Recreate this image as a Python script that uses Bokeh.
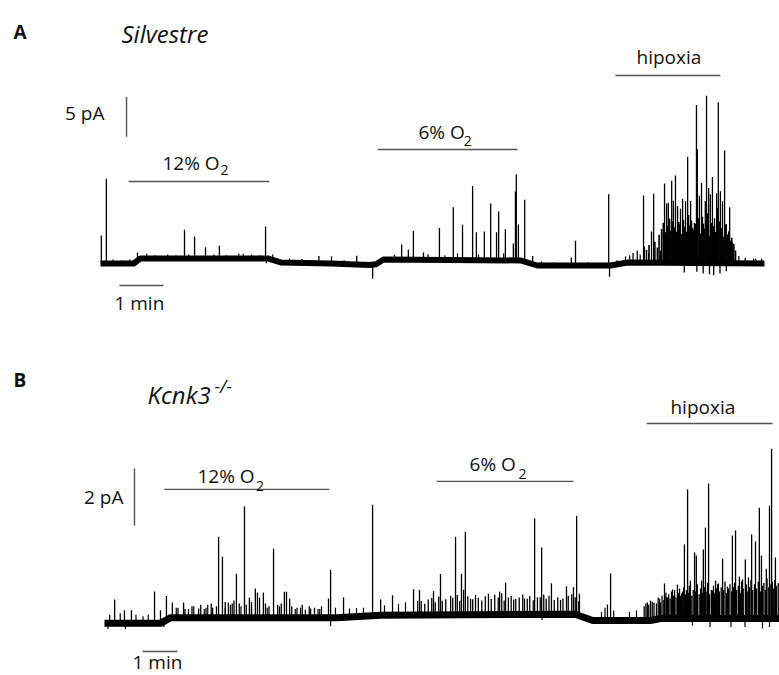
import numpy as np
from bokeh.plotting import figure
from bokeh.layouts import column
from bokeh.models import ColumnDataSource, Range1d
from bokeh.core.properties import value
from bokeh.embed import file_html
from bokeh.resources import INLINE

FONT = "Open Sans"
TRACE = "#000000"
BARC = "#555555"
TXT = "#111111"

# ---------------- Panel A: Silvestre (time in min, current in pA) ----------------
a_base_t = [0.0, 0.79, 0.95, 3.98, 4.29, 5.48, 6.40, 6.56, 6.74, 10.0, 10.4, 12.14, 12.55, 15.81]
a_base_i = [0.25, 0.25, 0.88, 0.88, 0.38, 0.25, 0.05, 0.15, 0.75, 0.63, 0.0, 0.0, 0.38, 0.25]

a_spk_t = [0.02, 0.14, 0.88, 2.0, 2.24, 2.5, 2.83, 3.29, 3.93, 5.2, 5.5, 6.1,
           7.17, 7.33, 7.45, 7.69, 8.07, 8.40, 8.62, 8.86, 8.95, 9.14, 9.29, 9.43,
           9.48, 9.64, 9.83, 9.88, 9.90, 9.95, 10.1, 10.29, 11.21, 11.31, 12.1,
           12.68, 12.78, 12.93, 12.95, 13.12, 13.17, 13.33, 13.43, 13.48, 13.52, 13.60,
           13.64, 13.69, 13.74, 13.81, 13.86, 13.93, 13.98, 14.05, 14.10, 14.14,
           14.19, 14.21, 14.26, 14.31, 14.36, 14.40, 14.43, 14.48, 14.52, 14.57,
           14.62, 14.67, 14.69, 14.71, 14.76, 14.81, 14.86, 14.90, 14.98, 15.05,
           15.55, 15.74]
a_spk_amp = [3.5, 10.6, 1.0, 3.6, 2.75, 1.4, 1.6, 0.6, 4.0, 0.9, 0.9, 1.1,
             1.9, 1.25, 3.6, 0.9, 4.0, 6.6, 4.4, 9.25, 3.5, 3.6, 7.1, 3.5,
             6.1, 3.9, 2.1, 8.6, 10.75, 4.5, 7.75, 1.0, 1.0, 3.1, 8.9,
             1.2, 1.5, 8.4, 2.0, 3.9, 8.6, 1.5, 9.9, 7.4, 7.5, 10.25,
             7.75, 10.9, 7.1, 6.75, 8.0, 7.75, 13.25, 7.75, 4.4, 5.0,
             19.75, 14.25, 8.4, 10.0, 4.9, 7.75, 20.9, 9.4, 8.6, 10.75,
             5.6, 8.75, 6.9, 20.1, 9.0, 7.75, 14.1, 4.9, 7.0, 2.6,
             0.6, 0.6]
# dense burst activity during hypoxia
a_burst_t = [13.00, 13.06, 13.20, 13.26, 13.30, 13.36, 13.40, 13.46, 13.50, 13.55, 13.58,
             13.62, 13.67, 13.71, 13.77, 13.79, 13.84, 13.88, 13.91, 13.96, 14.0,
             14.03, 14.07, 14.12, 14.17, 14.23, 14.28, 14.33, 14.38, 14.45, 14.50,
             14.55, 14.59, 14.65, 14.73, 14.79, 14.83, 14.88, 14.93, 14.96, 15.0,
             15.03, 15.08, 15.12]
a_burst_amp = [1.6, 2.2, 2.6, 1.9, 3.5, 4.2, 5.0, 3.8, 4.6, 5.5, 4.0,
               5.2, 4.4, 3.9, 5.1, 4.8, 3.6, 5.4, 4.5, 3.9, 6.0,
               4.7, 5.3, 4.1, 4.9, 5.6, 3.7, 5.8, 4.3, 6.2, 3.4,
               5.0, 4.6, 3.9, 5.2, 4.4, 3.3, 4.8, 3.6, 4.0, 2.8,
               3.2, 2.4, 1.6]
# small fluctuations riding on the baseline
a_small_t = [0.3, 0.5, 0.7, 1.1, 1.3, 1.6, 1.8, 2.1, 2.7, 3.0, 3.4, 3.6, 3.8, 4.1, 4.5,
             4.8, 5.8, 6.3, 7.0, 7.8, 8.2, 8.5, 9.0, 9.6, 10.5, 10.8, 11.6, 12.3,
             12.5, 12.6, 12.85, 13.05, 15.2, 15.35, 15.6]
a_small_amp = [0.5, 0.4, 0.5, 0.6, 0.4, 0.5, 0.4, 0.5, 0.5, 0.4, 0.6, 0.5, 0.4, 0.7, 0.5,
               0.5, 0.5, 0.4, 0.6, 0.7, 0.6, 0.8, 0.7, 0.9, 0.5, 0.4, 0.4, 0.5,
               0.8, 0.9, 1.0, 1.2, 0.9, 0.7, 0.6]
a_neg_t = [3.95, 6.48, 12.12, 13.9, 14.2, 14.35, 14.5, 14.6, 14.75, 14.9]
a_neg_amp = [-0.6, -1.75, -1.4, -1.2, -1.1, -1.3, -1.4, -1.5, -1.3, -1.0]

a_stim_label = ["12% O", "6% O", "hipoxia"]
a_stim_sub = ["2", "2", ""]
a_stim_start = [0.67, 6.6, 12.26]
a_stim_end = [4.02, 9.93, 14.76]
a_stim_level = [10.5, 14.5, 23.75]

# ---------------- Panel B: Kcnk3-/- ----------------
b_base_t = [0.0, 1.6, 1.89, 6.31, 6.63, 7.89, 13.45, 13.95, 15.6, 15.89, 19.3]
b_base_i = [-0.1, -0.1, 0.1, 0.1, 0.1, 0.18, 0.22, 0.0, 0.0, 0.07, 0.07]

b_spk_t = [0.29, 0.57, 0.77, 1.43, 1.6, 1.77, 1.94, 2.26, 2.69, 3.09, 3.26, 3.37, 3.54,
           3.77, 4.0, 4.14, 4.31, 4.37, 4.43, 4.54, 4.83, 5.14, 5.2, 5.29, 5.74,
           5.89, 6.4, 6.46, 6.83, 7.66, 7.89, 8.23, 8.83, 9.0, 9.4, 9.6, 9.89,
           10.03, 10.2, 10.26, 10.31, 10.46, 10.97, 11.29, 11.46, 11.54, 11.69,
           12.0, 12.29, 12.37, 12.49, 12.77, 13.03, 13.2, 13.4, 13.49, 13.57,
           14.37, 14.46, 15.51, 15.77, 15.89, 16.0, 16.09, 16.23, 16.37, 16.49,
           16.57, 16.66, 16.74, 16.86, 16.91, 17.06, 17.11, 17.17, 17.26, 17.37,
           17.46, 17.54, 17.66, 17.8, 17.94, 18.03, 18.14, 18.23, 18.31, 18.4,
           18.49, 18.6, 18.71, 18.77, 18.91, 19.0, 19.06, 19.17]
b_spk_amp = [0.84, 0.46, 0.46, 1.12, 0.46, 0.84, 0.53, 0.53, 0.32, 0.35, 2.84, 2.14, 0.53,
             1.54, 3.9, 0.7, 1.02, 0.88, 0.7, 0.88, 2.42, 0.91, 0.91, 0.67, 0.28,
             0.32, 0.67, 1.68, 0.7, 3.9, 0.56, 0.7, 0.91, 0.88, 0.84, 1.44, 0.67,
             2.74, 1.44, 0.88, 2.91, 0.56, 0.74, 0.81, 1.12, 0.6, 0.53,
             0.56, 3.37, 0.6, 2.35, 1.09, 0.5, 0.98, 0.95, 3.47, 0.77,
             0.56, 1.65, 0.63, 0.56, 0.56, 1.23, 0.74, 1.02, 1.19, 0.88,
             2.6, 4.53, 1.33, 2.32, 2.21, 1.33, 2.42, 3.19, 4.74, 0.98,
             1.33, 1.23, 2.1, 1.12, 2.91, 3.09, 1.47, 1.37, 2.07, 1.44,
             2.95, 2.7, 3.89, 2.21, 1.75, 3.96, 5.96, 2.14]
b_small_t = [0.15, 0.45, 0.9, 1.1, 1.25, 2.05, 2.4, 2.55, 2.85, 2.95, 3.45, 3.65, 3.9, 4.2,
             4.65, 5.0, 5.45, 5.6, 6.1, 6.2, 6.6, 7.0, 7.2, 7.4, 8.0, 8.4, 8.6, 8.95,
             14.2, 14.3, 14.55, 15.0, 15.2]
b_small_amp = [0.3, 0.35, 0.3, 0.25, 0.3, 0.35, 0.3, 0.4, 0.3, 0.45, 0.35, 0.5, 0.4, 0.45,
               0.35, 0.4, 0.3, 0.35, 0.3, 0.4, 0.35, 0.3, 0.3, 0.3, 0.35, 0.4, 0.45, 0.5,
               0.3, 0.45, 0.35, 0.3, 0.35]
# dense low-amplitude activity (12% O2, 6% O2, hipoxia)
b_fill_t = [2.1, 2.3, 2.5, 2.75, 2.9, 3.05, 3.2, 3.45, 3.6, 3.7, 3.85, 4.05, 4.2, 4.6,
            4.7, 4.95, 5.05, 5.35, 5.5, 5.65, 5.85, 6.0, 6.15,
            9.05, 9.15, 9.25, 9.35, 9.45, 9.55, 9.65, 9.75, 9.95, 10.08, 10.15, 10.38,
            10.52, 10.6, 10.68, 10.78, 10.88, 11.05, 11.15, 11.25, 11.35, 11.42, 11.62,
            11.75, 11.85, 11.95, 12.08, 12.15, 12.25, 12.45, 12.55, 12.62, 12.7, 12.85,
            12.95, 13.1, 13.25, 13.35, 13.45, 13.55,
            15.42, 15.47, 15.55, 15.6, 15.65, 15.7, 15.82, 15.86, 15.93, 15.98, 16.04,
            16.06, 16.12, 16.16, 16.2, 16.26, 16.29, 16.33, 16.4, 16.43, 16.46, 16.52,
            16.55, 16.6, 16.63, 16.69, 16.71, 16.78, 16.82, 16.88, 16.94, 16.99, 17.03,
            17.08, 17.14, 17.19, 17.23, 17.29, 17.34, 17.4, 17.43, 17.49, 17.52, 17.57,
            17.62, 17.69, 17.73, 17.77, 17.83, 17.87, 17.92, 17.97, 18.0, 18.06, 18.11,
            18.17, 18.2, 18.25, 18.34, 18.38, 18.43, 18.47, 18.52, 18.57, 18.63, 18.68,
            18.74, 18.8, 18.84, 18.88, 18.93, 18.98, 19.02, 19.08, 19.12, 19.15, 19.2,
            19.25]
b_fill_amp = [0.35, 0.3, 0.4, 0.45, 0.35, 0.5, 0.4, 0.55, 0.45, 0.6, 0.5, 0.45, 0.55, 0.5,
              0.4, 0.45, 0.5, 0.4, 0.35, 0.45, 0.4, 0.35, 0.3,
              0.5, 0.4, 0.55, 0.6, 0.45, 0.65, 0.5, 0.55, 0.6, 0.7, 0.5, 0.65,
              0.55, 0.7, 0.6, 0.5, 0.65, 0.55, 0.7, 0.6, 0.75, 0.5, 0.65,
              0.55, 0.6, 0.7, 0.55, 0.65, 0.5, 0.6, 0.7, 0.55, 0.65, 0.5,
              0.6, 0.55, 0.65, 0.7, 0.6, 0.5,
              0.5, 0.6, 0.55, 0.7, 0.65, 0.6, 0.75, 0.7, 0.8, 0.65, 0.9,
              0.75, 0.85, 0.7, 0.95, 0.8, 1.0, 0.75, 0.9, 1.05, 0.8, 0.95,
              1.1, 0.85, 1.0, 0.9, 1.15, 0.8, 1.0, 0.95, 1.2, 0.85, 1.05,
              0.9, 1.1, 0.95, 1.25, 0.85, 1.0, 1.15, 0.9, 1.05, 1.2, 0.95,
              1.1, 1.0, 1.3, 0.9, 1.05, 1.2, 0.95, 1.1, 1.25, 1.0, 1.15,
              0.9, 1.3, 1.05, 1.2, 0.95, 1.1, 1.35, 1.0, 1.2, 1.05, 1.3,
              0.95, 1.15, 1.25, 1.0, 1.4, 1.1, 1.2, 1.3, 1.05, 1.35, 1.15,
              1.25]
b_neg_t = [0.1, 0.6, 1.7, 6.46, 12.5, 16.8, 17.3, 17.9, 18.3, 18.8, 19.0]
b_neg_amp = [-0.2, -0.2, -0.2, -0.3, -0.2, -0.25, -0.3, -0.3, -0.3, -0.35, -0.3]

b_stim_label = ["12% O", "6% O", "hipoxia"]
b_stim_sub = ["2", "2", ""]
b_stim_start = [1.71, 9.49, 15.49]
b_stim_end = [6.43, 13.4, 19.09]
b_stim_level = [4.6, 4.88, 6.91]


def base_fig(h, xr, yr):
    p = figure(width=779, height=h, x_range=Range1d(*xr), y_range=Range1d(*yr),
               output_backend="svg", toolbar_location=None, min_border=0,
               x_axis_location=None, y_axis_location=None, outline_line_color=None,
               background_fill_color="white", border_fill_color="white")
    p.xgrid.visible = False
    p.ygrid.visible = False
    return p


def draw_trace(p, bt, bi, groups, base_w):
    bt = np.asarray(bt, float)
    bi = np.asarray(bi, float)
    for (ts, amps, lw) in groups:
        ts = np.asarray(ts, float)
        b = np.interp(ts, bt, bi)
        src = ColumnDataSource(dict(x=ts, y0=b, y1=b + np.asarray(amps, float)))
        p.segment(x0="x", y0="y0", x1="x", y1="y1", source=src,
                  line_color=TRACE, line_width=lw)
    p.line(bt, bi, line_color=TRACE, line_width=base_w, line_join="round")


def txt(p, x, y, s, size, style="normal", align="left", color=TXT):
    p.text(x=[x], y=[y], text=[s], text_font=value(FONT), text_font_size=f"{size}px",
           text_font_style=style, text_align=align, text_baseline="alphabetic",
           text_color=color, y_offset=-round(0.37 * size))


# ---------- Figure A ----------
pa = base_fig(338, (-2.381, 16.167), (-9.125, 33.125))
draw_trace(pa, a_base_t, a_base_i,
           [(a_small_t, a_small_amp, 1.2), (a_burst_t, a_burst_amp, 1.6),
            (a_spk_t, a_spk_amp, 1.3), (a_neg_t, a_neg_amp, 1.3)], 6)
pa.segment(x0=a_stim_start, y0=a_stim_level, x1=a_stim_end, y1=a_stim_level,
           line_color=BARC, line_width=1.4)
# scale bars
pa.segment(x0=[0.62], y0=[16.1], x1=[0.62], y1=[21.1], line_color=BARC, line_width=1.4)
pa.segment(x0=[0.45], y0=[-2.5], x1=[1.5], y1=[-2.5], line_color=BARC, line_width=1.4)
txt(pa, -2.071, 28.375, "A", 19, "bold")
txt(pa, 0.5, 27.875, "Silvestre", 24, "italic")
txt(pa, 0.095, 18.25, "5 pA", 19, align="right")
txt(pa, 0.333, -5.5, "1 min", 19)
# stimulus labels
txt(pa, 1.476, 12.0, a_stim_label[0], 19)
txt(pa, 2.86, 11.3, a_stim_sub[0], 14)
txt(pa, 7.571, 15.875, a_stim_label[1], 19)
txt(pa, 8.65, 14.95, a_stim_sub[1], 14)
txt(pa, 12.762, 25.25, a_stim_label[2], 19)

# ---------- Figure B ----------
pb = base_fig(337, (-2.971, 19.286), (-1.930, 9.895))
draw_trace(pb, b_base_t, b_base_i,
           [(b_small_t, b_small_amp, 1.2), (b_fill_t, b_fill_amp, 1.3),
            (b_spk_t, b_spk_amp, 1.3), (b_neg_t, b_neg_amp, 1.2)], 7)
pb.segment(x0=b_stim_start, y0=b_stim_level, x1=b_stim_end, y1=b_stim_level,
           line_color=BARC, line_width=1.4)
pb.segment(x0=[0.857], y0=[3.33], x1=[0.857], y1=[5.33], line_color=BARC, line_width=1.4)
pb.segment(x0=[1.086], y0=[-1.088], x1=[2.086], y1=[-1.088], line_color=BARC, line_width=1.4)
txt(pb, -2.6, 8.21, "B", 19, "bold")
txt(pb, 1.229, 7.614, "Kcnk3", 24, "italic")
txt(pb, 3.14, 8.0, "-/-", 18, "italic")
txt(pb, 0.543, 4.105, "2 pA", 19, align="right")
txt(pb, 0.8, -1.71, "1 min", 19)
txt(pb, 2.657, 4.842, b_stim_label[0], 19)
txt(pb, 4.33, 4.55, b_stim_sub[0], 14)
txt(pb, 10.43, 5.263, b_stim_label[1], 19)
txt(pb, 11.83, 4.95, b_stim_sub[1], 14)
txt(pb, 16.17, 7.263, b_stim_label[2], 19)

layout = column(pa, pb, spacing=0)
open("out.html", "w").write(file_html(layout, INLINE))
